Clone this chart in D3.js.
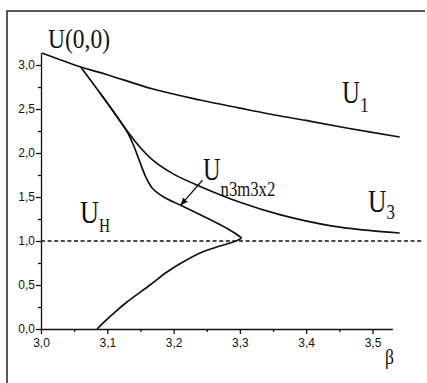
<!DOCTYPE html>
<html>
<head>
<meta charset="utf-8">
<script src="https://cdn.jsdelivr.net/npm/d3@7"></script>
<style>
  body { margin: 0; background: #fff; }
  svg { display: block; }
</style>
</head>
<body>
<script>
// curve data (beta, U)
var u1Beta = [3.0015, 3.06, 3.10, 3.169, 3.24, 3.30, 3.345, 3.40, 3.461, 3.541];
var u1Val  = [3.136, 2.977, 2.89, 2.727, 2.602, 2.51, 2.443, 2.37, 2.284, 2.182];

var u3Beta = [3.06, 3.089, 3.115, 3.13, 3.15, 3.17, 3.20, 3.24, 3.30, 3.36, 3.44, 3.541];
var u3Val  = [2.977, 2.682, 2.41, 2.25, 2.06, 1.91, 1.76, 1.62, 1.44, 1.30, 1.17, 1.091];

var unBeta = [3.089, 3.115, 3.13, 3.14, 3.149, 3.158, 3.168, 3.185, 3.21, 3.247, 3.282, 3.297, 3.302,
              3.294, 3.27, 3.24, 3.214, 3.19, 3.1644, 3.1297, 3.1116, 3.0935, 3.0845];
var unVal  = [2.682, 2.41, 2.24, 2.08, 1.90, 1.73, 1.60, 1.50, 1.409, 1.273, 1.136, 1.065, 1.035,
              1.0, 0.943, 0.864, 0.761, 0.648, 0.5, 0.307, 0.193, 0.068, 0.0];

var xTicks = [3.0, 3.1, 3.2, 3.3, 3.4, 3.5];
var xMinor = [3.05, 3.15, 3.25, 3.35, 3.45];
var yTicks = [0, 0.5, 1.0, 1.5, 2.0, 2.5, 3.0];
var yMinor = [0.25, 0.75, 1.25, 1.75, 2.25, 2.75];
var hLevel = 1.0;

//Width and height
var w = 427;
var h = 383;

var x = d3.scaleLinear().domain([3.0, 3.53]).range([41, 392.4]);
var y = d3.scaleLinear().domain([0, 3.14]).range([329, 52.7]);

var svg = d3.select("body")
    .append("svg")
    .attr("width", w)
    .attr("height", h);

// outer frame (left and top only)
svg.append("path")
    .attr("d", "M7,383 L7,11 L425,11")
    .attr("fill", "none")
    .attr("stroke", "#222")
    .attr("stroke-width", 1.5);

var fmt = function (d) { return d3.format(".1f")(d).replace(".", ","); };

// minor ticks
svg.append("g")
    .attr("transform", "translate(0,329)")
    .call(d3.axisBottom(x).tickValues(xMinor).tickSize(3).tickFormat(""))
    .call(function (g) { g.select(".domain").remove(); });
svg.append("g")
    .attr("transform", "translate(41,0)")
    .call(d3.axisLeft(y).tickValues(yMinor).tickSize(3).tickFormat(""))
    .call(function (g) { g.select(".domain").remove(); });

// major axes
svg.append("g")
    .attr("transform", "translate(0,329)")
    .call(d3.axisBottom(x).tickValues(xTicks).tickSize(5).tickSizeOuter(0).tickPadding(4).tickFormat(fmt));
svg.append("g")
    .attr("transform", "translate(41,0)")
    .call(d3.axisLeft(y).tickValues(yTicks).tickSize(5).tickSizeOuter(0).tickPadding(1).tickFormat(fmt));

svg.selectAll(".domain, .tick line")
    .attr("stroke", "#111")
    .attr("stroke-width", 1.3);
svg.selectAll(".tick text")
    .attr("font-family", "Liberation Sans, Arial, sans-serif")
    .attr("font-size", "12px")
    .attr("fill", "#111");

// dashed level U = 1
svg.append("line")
    .attr("x1", x(3.0)).attr("x2", 422)
    .attr("y1", y(hLevel)).attr("y2", y(hLevel))
    .attr("stroke", "#111")
    .attr("stroke-width", 1.3)
    .attr("stroke-dasharray", "4,2.6");

// curves
var line = d3.line()
    .x(function (d) { return x(d[0]); })
    .y(function (d) { return y(d[1]); })
    .curve(d3.curveCatmullRom.alpha(0.5));

[[u1Beta, u1Val], [u3Beta, u3Val], [unBeta, unVal]].forEach(function (s) {
    svg.append("path")
        .datum(d3.zip(s[0], s[1]))
        .attr("d", line)
        .attr("fill", "none")
        .attr("stroke", "#111")
        .attr("stroke-width", 1.7);
});

// arrow pointing at the U_n3m3x2 branch
svg.append("defs").append("marker")
    .attr("id", "ah")
    .attr("viewBox", "0 0 10 10")
    .attr("refX", 9).attr("refY", 5)
    .attr("markerWidth", 6).attr("markerHeight", 6)
    .attr("orient", "auto")
    .append("path")
    .attr("d", "M0,1 L10,5 L0,9 Z")
    .attr("fill", "#111");
svg.append("line")
    .attr("x1", x(3.2435)).attr("y1", y(1.69))
    .attr("x2", x(3.211)).attr("y2", y(1.41))
    .attr("stroke", "#111")
    .attr("stroke-width", 1.3)
    .attr("marker-end", "url(#ah)");

// labels: main text + subscript in one text element, condensed horizontally
function label(main, sub, b, u, size, subSize, subDy, sx) {
    var t = svg.append("text")
        .attr("transform", "translate(" + x(b) + "," + y(u) + ") scale(" + sx + ",1)")
        .attr("font-family", "Liberation Serif, Times New Roman, serif")
        .attr("fill", "#111");
    t.append("tspan").attr("font-size", size + "px").text(main);
    if (sub) {
        t.append("tspan").attr("font-size", subSize + "px").attr("dy", subDy).text(sub);
    }
    return t;
}
label("U(0,0)", null, 3.0106, 3.193, 28, 0, 0, 0.84);
label("U", "1", 3.454, 2.568, 31, 22, 9, 0.8);
label("U", "H", 3.0588, 1.2045, 31, 18, 9, 0.85);
label("U", "n3m3x2", 3.2443, 1.693, 32, 22, 16, 0.76);
label("U", "3", 3.4932, 1.33, 32, 21, 7, 0.8);
label("\u03b2", null, 3.519, -0.398, 22, 0, 0, 0.8);
</script>
</body>
</html>
